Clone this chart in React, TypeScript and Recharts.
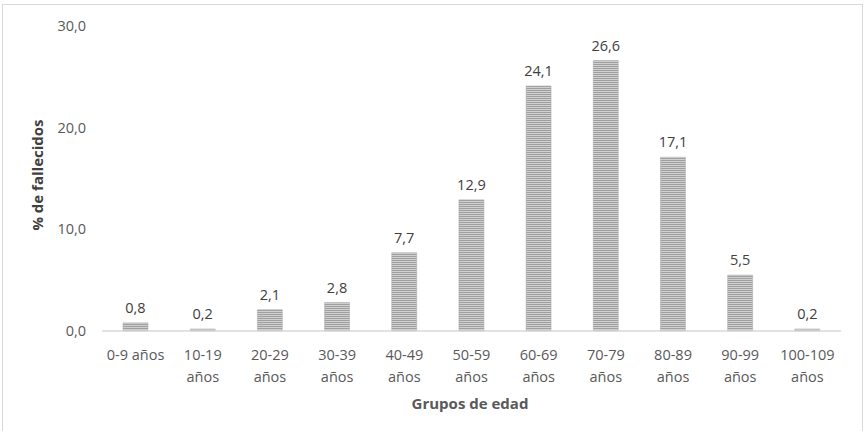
import React from "react";
import { BarChart, Bar, XAxis, YAxis, LabelList } from "recharts";

const categories = [
    "0-9 años", "10-19 años", "20-29 años", "30-39 años", "40-49 años", "50-59 años",
    "60-69 años", "70-79 años", "80-89 años", "90-99 años", "100-109 años",
];
const fallecidos = [0.8, 0.2, 2.1, 2.8, 7.7, 12.9, 24.1, 26.6, 17.1, 5.5, 0.2];
const yTicks = [0, 10, 20, 30];

const data = categories.map((grupo, i) => ({ grupo, pct: fallecidos[i] }));

const FONT = "'Open Sans', sans-serif";
const fmt = (v: any) => Number(v).toFixed(1).replace(".", ",");

const AgeTick = (props: any) => {
    const { x, y, payload } = props;
    const label: string = payload.value;
    const lines = label.length > 8 ? label.split(" ") : [label];
    return (
        <text x={x} y={y} textAnchor="middle" fill="#595959" fontSize={14.5} fontFamily={FONT}>
            {lines.map((l, i) => (
                <tspan key={i} x={x} dy={i === 0 ? 21 : 22}>{l}</tspan>
            ))}
        </text>
    );
};

export default function App() {
    return (
        <div style={{ position: "absolute", left: 0, top: 0, width: 867, height: 431, background: "#fff", overflow: "hidden" }}>
            <div style={{ position: "absolute", left: 2, top: 4, width: 859, height: 440, border: "1px solid #d9d9d9" }} />
            <div style={{ position: "absolute", left: 0, top: 0 }}>
                <BarChart width={867} height={431} data={data}
                    margin={{ top: 26, right: 26, left: 0, bottom: 0 }}>
                    <defs>
                        <pattern id="stripes" width="4" height="2" patternUnits="userSpaceOnUse">
                            <rect x="0" y="0" width="4" height="2" fill="#d0d0d0" />
                            <rect x="0" y="0" width="4" height="1" fill="#9f9f9f" />
                        </pattern>
                    </defs>
                    <XAxis dataKey="grupo" interval={0} axisLine={{ stroke: "#d9d9d9", strokeWidth: 1.5 }}
                        tickLine={false} tick={<AgeTick />} height={100} />
                    <YAxis domain={[0, 30]} ticks={yTicks} width={102} axisLine={false} tickLine={false}
                        tickSize={0} tickMargin={16} tickFormatter={fmt}
                        tick={{ fill: "#595959", fontSize: 14.5, fontFamily: FONT }} />
                    <Bar dataKey="pct" fill="url(#stripes)" stroke="#aaaaaa" strokeWidth={0.5} barSize={25} isAnimationActive={false}>
                        <LabelList dataKey="pct" position="top" offset={10} formatter={fmt}
                            style={{ fill: "#404040", fontSize: 14.5, fontFamily: FONT }} />
                    </Bar>
                </BarChart>
            </div>
            <div style={{ position: "absolute", left: 37, top: 175, transform: "translate(-50%, -50%) rotate(-90deg)", whiteSpace: "nowrap", fontFamily: FONT, fontWeight: 700, fontSize: 15, color: "#404040" }}>
                % de fallecidos
            </div>
            <div style={{ position: "absolute", left: 470, top: 403, transform: "translate(-50%, -50%)", whiteSpace: "nowrap", fontFamily: FONT, fontWeight: 700, fontSize: 15, color: "#595959" }}>
                Grupos de edad
            </div>
        </div>
    );
}
